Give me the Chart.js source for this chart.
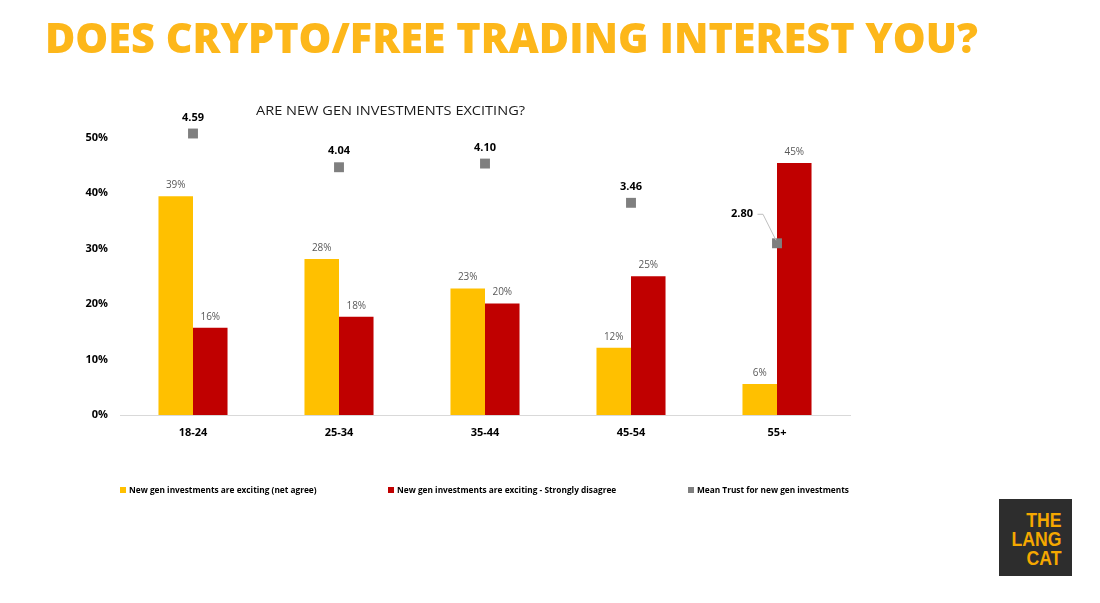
<!DOCTYPE html>
<html>
<head>
<meta charset="utf-8">
<script src="https://cdn.jsdelivr.net/npm/chart.js@4.4.1/dist/chart.umd.min.js"></script>
<style>
  html, body { margin: 0; padding: 0; background: #fff; }
  body { width: 1100px; height: 603px; position: relative; overflow: hidden; font-family: "Open Sans", sans-serif; }
  #chartBox { position: absolute; left: 0; top: 0; width: 1100px; height: 603px; }
  #title { position: absolute; left: 45px; top: 16px; font-size: 42px; line-height: 42px; font-weight: 800; color: #FDB71A; white-space: nowrap; transform-origin: left top; z-index: 2; }
  #subtitle { position: absolute; left: 256px; top: 104px; font-size: 13px; line-height: 13px; color: #1a1a1a; white-space: nowrap; transform-origin: left top; z-index: 2; }
  .legend-item { position: absolute; top: 484px; font-size: 8.3px; font-weight: 700; color: #000; white-space: nowrap; line-height: 12px; z-index: 2; }
  .legend-item span.box { display: inline-block; width: 6px; height: 6px; margin-right: 3px; vertical-align: 0px; }
  .logo { position: absolute; left: 999px; top: 499px; width: 73px; height: 77px; background: #2d2d2d; z-index: 2; }
  .logo div { position: absolute; right: 11px; top: 11px; text-align: right; font-family: "Liberation Sans Narrow", "Liberation Sans", sans-serif; font-weight: 700; font-size: 21px; line-height: 19px; color: #F5A800; transform: scaleX(0.84); transform-origin: right top; }
</style>
</head>
<body>
<div id="chartBox"><canvas id="trustChart"></canvas></div>
<div id="title">DOES CRYPTO/FREE TRADING INTEREST YOU?</div>
<div id="subtitle">ARE NEW GEN INVESTMENTS EXCITING?</div>
<div id="legend"></div>
<div class="logo"><div>THE<br>LANG<br>CAT</div></div>

<script>
// data
const ageGroups = ['18-24', '25-34', '35-44', '45-54', '55+'];
const netAgree = [39.4, 28.1, 22.8, 12.1, 5.6];
const stronglyDisagree = [15.7, 17.7, 20.1, 25.0, 45.4];
const meanTrust = [4.59, 4.04, 4.10, 3.46, 2.80];
const yTickValues = [0, 10, 20, 30, 40, 50];

const seriesNames = [
  'New gen investments are exciting (net agree)',
  'New gen investments are exciting - Strongly disagree',
  'Mean Trust for new gen investments'
];
const seriesColors = ['#FFC000', '#C00000', '#7F7F7F'];

// fit a text element to a measured width
function fitWidth(el, w) {
  const cur = el.getBoundingClientRect().width;
  el.style.transform = `scaleX(${w / cur})`;
}
fitWidth(document.getElementById('title'), 933);
fitWidth(document.getElementById('subtitle'), 269);

// labels on top of bars and squares
const valueLabels = {
  id: 'valueLabels',
  afterDatasetsDraw(chart) {
    const ctx = chart.ctx;
    ctx.save();
    ctx.textAlign = 'center';
    ctx.textBaseline = 'middle';
    chart.data.datasets.forEach((ds, i) => {
      const meta = chart.getDatasetMeta(i);
      meta.data.forEach((el, j) => {
        const v = ds.data[j];
        if (ds.type === 'line') {
          ctx.font = 'bold 11px "Open Sans"';
          ctx.fillStyle = '#000';
          if (j === ds.data.length - 1) {
            // last one sits left of the square, with a leader line
            ctx.strokeStyle = '#BFBFBF';
            ctx.lineWidth = 1;
            ctx.beginPath();
            ctx.moveTo(el.x - 19.5, el.y - 29);
            ctx.lineTo(el.x - 14, el.y - 29);
            ctx.lineTo(el.x - 1, el.y - 3);
            ctx.stroke();
            ctx.textAlign = 'right';
            ctx.fillText(v.toFixed(2), el.x - 24, el.y - 29);
            ctx.textAlign = 'center';
          } else {
            ctx.fillText(v.toFixed(2), el.x, el.y - 16);
          }
        } else {
          ctx.font = '10px "Open Sans"';
          ctx.fillStyle = '#595959';
          ctx.fillText(Math.round(v) + '%', el.x, el.y - 11);
        }
      });
    });
    ctx.restore();
  }
};

const chart = new Chart(document.getElementById('trustChart'), {
  data: {
    labels: ageGroups,
    datasets: [
      { type: 'bar', label: seriesNames[0], data: netAgree, backgroundColor: seriesColors[0], order: 1 },
      { type: 'bar', label: seriesNames[1], data: stronglyDisagree, backgroundColor: seriesColors[1], order: 1 },
      {
        type: 'line', label: seriesNames[2], data: meanTrust, yAxisID: 'y1',
        showLine: false, pointStyle: 'rect', pointRadius: 7, pointHoverRadius: 7,
        backgroundColor: seriesColors[2], borderColor: seriesColors[2], pointBorderWidth: 0,
        clip: false, order: 0
      }
    ]
  },
  options: {
    responsive: true,
    maintainAspectRatio: false,
    animation: false,
    layout: { padding: { left: 0, right: 250, top: 82, bottom: 150 } },
    datasets: { bar: { categoryPercentage: 0.473, barPercentage: 1 } },
    plugins: {
      legend: { display: false },
      tooltip: { enabled: false }
    },
    scales: {
      x: {
        grid: { display: false, drawTicks: false },
        border: { display: true, color: '#D9D9D9', width: 1 },
        ticks: { color: '#000', padding: 11, font: { family: 'Open Sans', size: 11, weight: 'bold' } },
        afterFit: s => { s.height = 38; }
      },
      y: {
        min: 0, max: 60,
        grid: { display: false, drawTicks: false },
        border: { display: false },
        afterBuildTicks: s => { s.ticks = yTickValues.map(v => ({ value: v })); },
        ticks: { color: '#000', padding: 12, font: { family: 'Open Sans', size: 11, weight: 'bold' }, callback: v => v + '%' },
        afterFit: s => { s.width = 120; }
      },
      y1: { display: false, min: 0, max: 5.43 }
    }
  },
  plugins: [valueLabels]
});

// legend built from the datasets
const legendLefts = [120, 388, 688];
const legendEl = document.getElementById('legend');
chart.data.datasets.forEach((ds, i) => {
  const item = document.createElement('div');
  item.className = 'legend-item';
  item.style.left = legendLefts[i] + 'px';
  item.innerHTML = `<span class="box" style="background:${ds.backgroundColor}"></span>${ds.label}`;
  legendEl.appendChild(item);
});
</script>
</body>
</html>
